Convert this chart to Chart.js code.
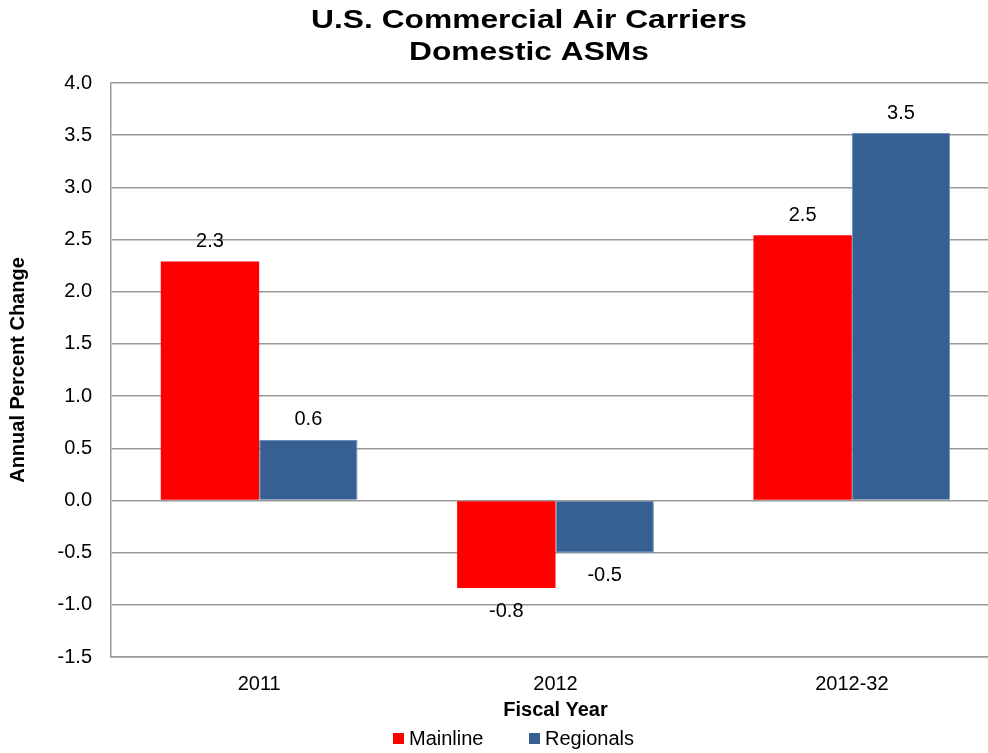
<!DOCTYPE html>
<html>
<head>
<meta charset="utf-8">
<script src="https://cdn.jsdelivr.net/npm/chart.js@4"></script>
<style>
    html, body { margin: 0; padding: 0; background: #fff; overflow: hidden; }
    /* the original plot runs a little past the right edge of the picture */
    #wrap { width: 988px; height: 753px; overflow: hidden; }
</style>
</head>
<body>
<div id="wrap"><canvas id="chart" width="1000" height="753"></canvas></div>
<script>
const categories = ['2011', '2012', '2012-32'];
const mainline = [2.29, -0.84, 2.54];
const regionals = [0.58, -0.5, 3.52];
const seriesNames = ['Mainline', 'Regionals'];
const seriesColors = ['#FF0000', '#376092'];
const titleLines = ['U.S. Commercial Air Carriers', 'Domestic ASMs'];

const FONT = "'Liberation Sans', Arial, sans-serif";

// bar value labels, above positive bars and below negative ones
const valueLabels = {
    id: 'valueLabels',
    afterDatasetsDraw(chart) {
        const ctx = chart.ctx;
        ctx.save();
        ctx.font = '20px ' + FONT;
        ctx.fillStyle = '#000';
        ctx.textAlign = 'center';
        ctx.textBaseline = 'middle';
        chart.data.datasets.forEach((ds, i) => {
            chart.getDatasetMeta(i).data.forEach((bar, j) => {
                const v = ds.data[j];
                const y = v >= 0 ? bar.y - 20 : bar.y + 23;
                ctx.fillText(v.toFixed(1), bar.x, y);
            });
        });
        ctx.restore();
    }
};

const headerAndLegend = {
    id: 'headerAndLegend',
    afterDraw(chart) {
        const ctx = chart.ctx;
        ctx.save();
        ctx.fillStyle = '#000';
        ctx.textAlign = 'center';
        ctx.textBaseline = 'middle';
        // title is wide and squat in the original, so stretch it a bit
        ctx.save();
        ctx.translate(529, 0);
        ctx.scale(1.27, 1);
        ctx.font = 'bold 25px ' + FONT;
        ctx.fillText(titleLines[0], 0, 21);
        ctx.fillText(titleLines[1], 0, 53);
        ctx.restore();

        // legend
        ctx.font = '20px ' + FONT;
        ctx.textAlign = 'left';
        const xs = [393, 529];
        seriesNames.forEach((name, i) => {
            ctx.fillStyle = seriesColors[i];
            ctx.fillRect(xs[i], 733, 11, 11);
            ctx.fillStyle = '#000';
            ctx.fillText(name, xs[i] + 16, 739);
        });
        ctx.restore();
    }
};

new Chart(document.getElementById('chart'), {
    type: 'bar',
    data: {
        labels: categories,
        datasets: [
            { label: seriesNames[0], data: mainline, backgroundColor: seriesColors[0] },
            { label: seriesNames[1], data: regionals, backgroundColor: seriesColors[1],
              borderColor: '#6f8fb8', borderWidth: 1 }
        ]
    },
    options: {
        responsive: false,
        animation: false,
        layout: { padding: { left: 0, right: 0, top: 83, bottom: 31 } },
        datasets: { bar: { barPercentage: 1, categoryPercentage: 0.664 } },
        plugins: {
            legend: { display: false },
            title: { display: false },
            tooltip: { enabled: false }
        },
        scales: {
            x: {
                grid: { display: false, drawTicks: false },
                border: { color: '#999', width: 1.5 },
                ticks: { color: '#000', font: { family: FONT, size: 20 }, padding: 15 },
                title: {
                    display: true, text: 'Fiscal Year', color: '#000',
                    font: { family: FONT, size: 20, weight: 'bold' },
                    padding: { top: 0, bottom: 0 }
                },
                afterFit(scale) { scale.height = 65; }
            },
            y: {
                min: -1.5,
                max: 4.0,
                ticks: {
                    stepSize: 0.5,
                    color: '#000',
                    padding: 19,
                    font: { family: FONT, size: 20 },
                    callback: v => v.toFixed(1)
                },
                grid: { color: '#999', lineWidth: 1.5, drawTicks: false },
                border: { color: '#999', width: 1.5 },
                title: {
                    display: true, text: 'Annual Percent Change', color: '#000',
                    font: { family: FONT, size: 20, weight: 'bold' },
                    padding: { top: 6, bottom: 0 }
                },
                afterFit(scale) { scale.width = 111; }
            }
        }
    },
    plugins: [valueLabels, headerAndLegend]
});
</script>
</body>
</html>
